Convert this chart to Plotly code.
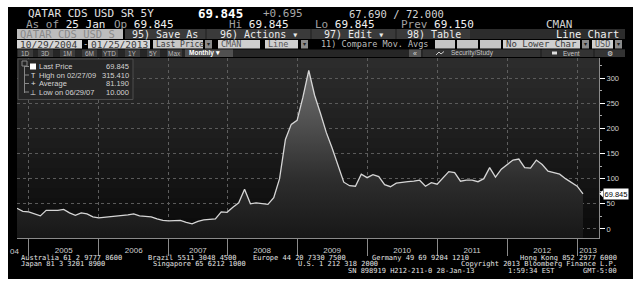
import plotly.graph_objects as go

# ---------------- data ----------------
months = [
    "2004-10", "2004-11", "2004-12",
    "2005-01", "2005-02", "2005-03", "2005-04", "2005-05", "2005-06",
    "2005-07", "2005-08", "2005-09", "2005-10", "2005-11", "2005-12",
    "2006-01", "2006-02", "2006-03", "2006-04", "2006-05", "2006-06",
    "2006-07", "2006-08", "2006-09", "2006-10", "2006-11", "2006-12",
    "2007-03", "2007-04", "2007-05", "2007-06", "2007-07",
    "2007-08", "2007-09", "2007-10", "2007-11", "2007-12",
    "2008-01", "2008-02", "2008-03", "2008-04", "2008-05", "2008-06",
    "2008-07", "2008-08", "2008-09", "2008-10", "2008-11", "2008-12",
    "2009-01", "2009-02", "2009-03", "2009-04", "2009-05", "2009-06",
    "2009-07", "2009-08", "2009-09", "2009-10", "2009-11", "2009-12",
    "2010-01", "2010-02", "2010-03", "2010-04", "2010-05", "2010-06",
    "2010-07", "2010-08", "2010-09", "2010-10", "2010-11", "2010-12",
    "2011-01", "2011-02", "2011-03", "2011-04", "2011-05", "2011-06",
    "2011-07", "2011-08", "2011-09", "2011-10", "2011-11", "2011-12",
    "2012-01", "2012-02", "2012-03", "2012-04", "2012-05", "2012-06",
    "2012-07", "2012-08", "2012-09", "2012-10", "2012-11", "2012-12",
    "2013-01",
]
values = [
    41, 35, 34,
    30, 26, 37, 37, 37, 39, 32, 27, 32, 30, 24, 22,
    23, 24, 26, 27, 28, 30, 26, 25, 24, 20, 17, 16,
    16.5, 17, 13, 10, 15, 18, 19, 20, 34, 33,
    43, 52, 79, 50, 52, 51, 49, 62, 100, 178, 208, 216,
    262, 315.41, 266, 230, 192, 161, 128, 93, 86, 85, 109, 102,
    108, 104, 88, 84, 91, 93, 94, 95, 97, 85, 92, 89,
    102, 114, 112, 95, 97, 97, 94, 100, 122, 103, 119, 128,
    137, 139, 122, 121, 137, 128, 115, 112, 109, 100, 92, 85,
    69.845,
]
year_labels = ["2005", "2006", "2007", "2008", "2009", "2010", "2011", "2012", "2013"]
y_ticks = [0, 50, 100, 150, 200, 250, 300]
y_minor = [25, 75, 125, 175, 225, 275, 325]

legend_rows = [
    ("Last Price", "69.845"),
    ("High on 02/27/09", "315.410"),
    ("Average", "81.190"),
    ("Low on 06/29/07", "10.000"),
]

# ---------------- geometry ----------------
W, H = 640, 286
ML, MR, MT, MB = 17, 41, 58, 48
PW = W - ML - MR
PH = H - MT - MB
X_MAX = 99.74
Y_MIN, Y_MAX = -18, 340


def px(x):
    return (x - ML) / PW


def py(y):
    return (H - MB - y) / PH


MONO = "DejaVu Sans Mono"
SANS = "Liberation Sans"

x = list(range(len(values)))
bounds = [i for i, m in enumerate(months) if m.endswith("-12")]
edges = bounds + [X_MAX]
label_pos = [(edges[k] + edges[k + 1]) / 2 for k in range(len(edges) - 1)]

shapes = []
annots = []


def rect(x0, y0, x1, y1, fill, line=None, layer="below", lw=1):
    shapes.append(dict(type="rect", xref="paper", yref="paper",
                       x0=px(x0), x1=px(x1), y0=py(y1), y1=py(y0),
                       fillcolor=fill, layer=layer,
                       line=dict(width=lw if line else 0, color=line or fill)))


def seg(x0, y0, x1, y1, color, layer="above", w=1):
    shapes.append(dict(type="line", xref="paper", yref="paper",
                       x0=px(x0), x1=px(x1), y0=py(y0), y1=py(y1),
                       layer=layer, line=dict(color=color, width=w)))


def text(xp, yp, s, size=10, color="#d8d8d8", anchor="left", family=MONO, bg=None):
    d = dict(xref="paper", yref="paper", x=px(xp), y=py(yp), text=s,
             showarrow=False, xanchor=anchor, yanchor="middle",
             font=dict(family=family, size=size, color=color), borderpad=0)
    if bg:
        d["bgcolor"] = bg
    annots.append(d)


# black terminal frame
rect(8, 7, 633, 279, "#000000")

# plot background gradient bands
nb = 18
for k in range(nb):
    t = k / (nb - 1)
    c = int(0x2c + (0x0b - 0x2c) * t)
    y0 = MT + k * PH / nb
    rect(ML, y0, ML + PW, y0 + PH / nb + 0.6, "#%02x%02x%02x" % (c, c, c))

# ---- header row 1 ----
text(27, 13.5, "QATAR CDS USD SR 5Y", 11, "#e2e2e2")
text(197, 13.5, "<b>69.845</b>", 12.5, "#ffffff")
text(262, 13.5, "+0.695", 11, "#a8a8a8")
text(348, 13.5, "67.690 / 72.000", 10.5, "#d6d6d6")

# ---- header row 2 ----
G = '<span style="color:#a0a0a0">%s</span>'
text(25, 24, (G % "As of") + " 25 Jan", 11, "#f0f0f0")
text(113, 24, (G % "Op") + " 69.845", 11, "#f0f0f0")
text(228, 24, (G % "Hi") + " 69.845", 11, "#f0f0f0")
text(314, 24, (G % "Lo") + " 69.845", 11, "#f0f0f0")
text(400, 24, (G % "Prev") + " 69.150", 11, "#f0f0f0")
text(545, 24, "CMAN", 11, "#d0d0d0")

# ---- toolbar row 3 ----
rect(17, 29, 123, 39, "#bdbdbd")
text(19, 34, "QATAR CDS USD S", 10.5, "#8a8a8a")
rect(125, 29, 625, 39, "#2c2c2c")
for (a, b, s) in [(125, 205, "95) Save As"), (207, 310, "96) Actions ▾"),
                  (312, 395, "97) Edit ▾"), (397, 470, "98) Table")]:
    rect(a, 29, b, 39, "#3a3a3a")
    text((a + b) / 2, 34, s, 10, "#ececec", anchor="center")
text(620, 34, "Line Chart", 10.5, "#f0f0f0", anchor="right")


# ---- row 4: inputs ----
def box(a, b, s, fill="#d6d6d6", col="#3a3a3a", size=8.5):
    rect(a, 40, b, 48.5, fill)
    if s:
        text(a + 1.5, 44.3, s, size, col)


def drop(a):
    rect(a, 40, a + 7, 48.5, "#8a8a8a")
    text(a + 3.5, 44.3, "▾", 6, "#222222", anchor="center", family=SANS)


box(17, 82, "10/29/2004", size=9.5)
text(85, 44.3, "-", 9, "#d0d0d0", anchor="center")
box(88, 150, "01/25/2013", size=9.5)
box(153, 203, "Last Price", fill="#c8c8c8", size=8)
drop(205)
box(218, 260, "CMAN", fill="#cfcfcf", col="#555555")
box(265, 298, "Line", fill="#cfcfcf", col="#555555")
drop(301)
text(320, 44.3, "11) Compare Mov. Avgs", 8.5, "#bdbdbd")
box(435, 455, "", fill="#c4c4c4")
box(457, 478, "", fill="#c4c4c4")
box(480, 501, "", fill="#c4c4c4")
box(503, 580, "No Lower Char", fill="#d0d0d0", size=9)
drop(582)
box(592, 613, "USD", fill="#cfcfcf", col="#555555")
drop(615)

# ---- row 5: range buttons ----
rect(17, 49.5, 625, 57, "#262626")
for (a, b, s) in [(18, 33, "1D"), (38, 53, "3D"), (60, 75, "1M"), (82, 97, "6M"),
                  (102, 118, "YTD"), (125, 140, "1Y"), (147, 160, "5Y"), (167, 182, "Max")]:
    rect(a, 49.5, b, 57, "#3c3c3c")
    text((a + b) / 2, 53.3, s, 6.5, "#b8b8b8", anchor="center", family=SANS)
rect(185, 49.5, 233, 57, "#505050")
text(188, 53.3, "<b>Monthly ▾</b>", 6.5, "#ffffff", family=SANS)
rect(409, 49.5, 421, 57, "#555555")
text(415, 53.3, "«", 7, "#dddddd", anchor="center", family=SANS)
rect(423, 49.5, 540, 57, "#333333")
seg(436, 55, 439, 52, "#cccccc")
seg(439, 52, 441, 54, "#cccccc")
seg(441, 54, 444, 51.5, "#cccccc")
text(450, 53.3, "Security/Study", 6.5, "#c8c8c8", family=SANS)
rect(542, 49.5, 593, 57, "#333333")
rect(552, 51.5, 557, 54.5, "#dddddd", layer="above")
text(562, 53.3, "Event", 6.5, "#c8c8c8", family=SANS)
rect(595, 49.5, 625, 57, "#333333")
text(610, 53.3, "⚙", 7, "#dddddd", anchor="center", family=SANS)

# ---- legend box ----
rect(18, 59, 133, 99.5, "#262626", line="#4c4c4c", layer="above")
rect(22, 61, 27, 66, "#262626", line="#888888", layer="above")
seg(24.5, 66, 24.5, 93, "#888888")
ly = [66.5, 75, 83.5, 92]
for k, (lab, val) in enumerate(legend_rows):
    seg(24.5, ly[k], 29, ly[k], "#888888")
    text(38, ly[k], lab, 7.5, "#d4d4d4", family=SANS)
    text(130, ly[k], val, 7.5, "#d4d4d4", anchor="right", family=SANS)
rect(30, 63.5, 36, 69.5, "#ffffff", layer="above")
text(33, ly[1], "T", 7, "#e0e0e0", anchor="center", family=SANS)
text(33, ly[2], "+", 8, "#e0e0e0", anchor="center", family=SANS)
text(33, ly[3], "⊥", 7, "#e0e0e0", anchor="center", family=SANS)

# ---- last price tag ----
last = values[-1]
annots.append(dict(xref="paper", yref="y", x=px(602.5), y=last, text="%.3f" % last,
                   showarrow=False, xanchor="left", yanchor="middle",
                   bgcolor="#ffffff", borderpad=0.5,
                   font=dict(family=SANS, size=7.5, color="#000000")))
shapes.append(dict(type="path", xref="paper", yref="y", layer="above",
                   path="M %f,%f L %f,%f L %f,%f Z" % (px(599.5), last, px(603), last + 7, px(603), last - 7),
                   fillcolor="#ffffff", line=dict(width=0)))

# ---- partial 2004 label ----
text(9, 251, "04", 8, "#cfcfcf", family=SANS)

# ---- footer ----
FT = "#e4e4e4"
FS = 7
text(20, 258, "Australia 61 2 9777 8600", FS, FT)
text(147, 258, "Brazil 5511 3048 4500", FS, FT)
text(252, 258, "Europe 44 20 7330 7500", FS, FT)
text(371, 258, "Germany 49 69 9204 1210", FS, FT)
text(618, 258, "Hong Kong 852 2977 6000", FS, FT, anchor="right")
text(20, 264.3, "Japan 81 3 3201 8900", FS, FT)
text(152, 264.3, "Singapore 65 6212 1000", FS, FT)
text(297, 264.3, "U.S. 1 212 318 2000", FS, FT)
text(618, 264.3, "Copyright 2013 Bloomberg Finance L.P.", FS, FT, anchor="right")
text(347, 270.6, "SN 898919 H212-211-0 28-Jan-13", FS, FT)
text(507, 270.6, "1:59:34 EST", FS, FT)
text(618, 270.6, "GMT-5:00", FS, FT, anchor="right")

# ---------------- traces ----------------
fig = go.Figure()
fig.add_trace(go.Scatter(x=x, y=[Y_MIN] * len(x), mode="lines",
                         line=dict(width=0), hoverinfo="skip", showlegend=False))
fig.add_trace(go.Scatter(
    x=x, y=values, mode="lines", showlegend=False,
    line=dict(color="#d6d6d6", width=1.3),
    fill="tonexty",
    fillgradient=dict(type="vertical", start=Y_MIN, stop=320,
                      colorscale=[[0, "#171717"], [0.35, "#2e2e2e"], [1, "#727272"]]),
))

fig.update_layout(
    width=W, height=H,
    margin=dict(l=ML, r=MR, t=MT, b=MB, pad=0),
    paper_bgcolor="#ffffff",
    plot_bgcolor="#000000",
    shapes=shapes,
    annotations=annots,
    showlegend=False,
    xaxis=dict(
        range=[0, X_MAX], showgrid=False, zeroline=False,
        tickmode="array", tickvals=label_pos, ticktext=year_labels,
        ticks="outside", ticklen=4, tickcolor="rgba(0,0,0,0)",
        tickfont=dict(family=SANS, size=8, color="#cfcfcf"),
        showline=True, linecolor="#8a8a8a", linewidth=1,
        minor=dict(tickmode="array", tickvals=bounds, showgrid=True,
                   gridcolor="#5e5e5e", griddash="dot", gridwidth=1,
                   ticks="outside", ticklen=17, tickcolor="#8a8a8a", tickwidth=1),
    ),
    yaxis=dict(
        range=[Y_MIN, Y_MAX], side="right", zeroline=False,
        tickmode="array", tickvals=y_ticks,
        showgrid=True, gridcolor="#5a5a5a", griddash="dot", gridwidth=1,
        ticks="outside", ticklen=5, tickcolor="#ffffff", tickwidth=1,
        tickfont=dict(family=SANS, size=7.5, color="#cfcfcf"),
        showline=True, linecolor="#8a8a8a", linewidth=1,
        minor=dict(tickmode="array", tickvals=y_minor, ticks="outside",
                   ticklen=2, tickcolor="#aaaaaa", showgrid=False),
    ),
)

fig.write_html("out.html")
